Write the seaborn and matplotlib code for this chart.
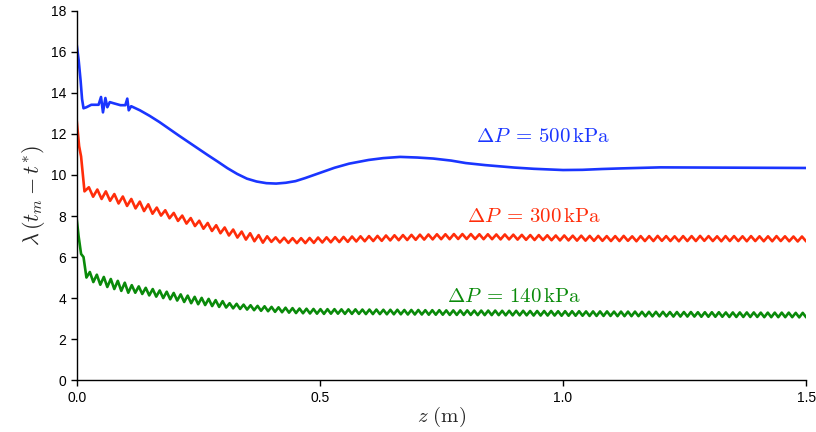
import numpy as np
import pandas as pd
import matplotlib
matplotlib.use("Agg")
import matplotlib.pyplot as plt
import seaborn as sns

# --- data ---
# dP = 500 kPa (smooth curve, explicit points)
blue_z = [0.0, 0.004, 0.008, 0.011, 0.014, 0.02, 0.03, 0.045, 0.05, 0.054, 0.059, 0.063,
          0.068, 0.075, 0.09, 0.1, 0.104, 0.107, 0.112, 0.13, 0.15, 0.17, 0.19, 0.21,
          0.23, 0.25, 0.27, 0.29, 0.31, 0.33, 0.35, 0.37, 0.39, 0.41, 0.43, 0.45, 0.47,
          0.5, 0.53, 0.56, 0.6, 0.63, 0.665, 0.7, 0.733, 0.77, 0.8, 0.84, 0.87, 0.9,
          0.94, 0.97, 1.0, 1.04, 1.08, 1.12, 1.2, 1.3, 1.4, 1.5]
blue_v = [16.35, 15.6, 14.6, 13.7, 13.25, 13.3, 13.42, 13.42, 13.8, 13.05, 13.75, 13.3,
          13.55, 13.5, 13.4, 13.4, 13.72, 13.15, 13.35, 13.15, 12.88, 12.58, 12.25, 11.92,
          11.6, 11.28, 10.96, 10.65, 10.33, 10.05, 9.82, 9.68, 9.6, 9.58, 9.62, 9.7, 9.85,
          10.1, 10.35, 10.55, 10.73, 10.82, 10.88, 10.85, 10.8, 10.7, 10.58, 10.48, 10.42, 10.36,
          10.3, 10.27, 10.24, 10.25, 10.29, 10.32, 10.37, 10.36, 10.35, 10.34]

# dP = 300 kPa: initial drop, then alternating peaks / troughs
red_head_z = [0.0, 0.005, 0.009, 0.016]
red_head_v = [12.65, 11.4, 10.9, 9.2]
red_osc_start = 0.025
red_peaks = [9.40, 9.29, 9.20, 9.07, 8.95, 8.83, 8.70, 8.57, 8.41, 8.28, 8.15, 8.02,
             7.90, 7.77, 7.66, 7.55, 7.44, 7.34, 7.24, 7.16, 7.07, 7.01, 6.96, 6.94,
             6.92, 6.92, 6.93, 6.95, 6.96, 6.97, 6.98, 7.00, 7.01, 7.02,
             7.03, 7.05, 7.06, 7.07, 7.08, 7.09, 7.10, 7.11, 7.11, 7.12,
             7.12, 7.12, 7.11, 7.11, 7.10, 7.10, 7.09, 7.08, 7.07, 7.07,
             7.06, 7.05, 7.05, 7.04, 7.04, 7.03, 7.03, 7.02,
             7.02, 7.03, 7.01, 7.02, 7.02, 7.03, 7.02, 7.01, 7.02, 7.02, 7.03, 7.02,
             7.01, 7.02, 7.02, 7.01, 7.02, 7.01, 7.01, 7.02, 7.01, 7.00, 7.00]
red_troughs = [8.94, 8.83, 8.74, 8.61, 8.49, 8.37, 8.24, 8.11, 8.02, 7.89, 7.76, 7.63,
               7.51, 7.38, 7.27, 7.16, 7.05, 6.95, 6.85, 6.77, 6.70, 6.74, 6.71, 6.69,
               6.68, 6.68, 6.69, 6.71, 6.72, 6.73, 6.74, 6.76, 6.77, 6.78,
               6.79, 6.81, 6.82, 6.83, 6.84, 6.85, 6.86, 6.87, 6.87, 6.88,
               6.88, 6.88, 6.87, 6.87, 6.86, 6.86, 6.85, 6.84, 6.83, 6.83,
               6.82, 6.81, 6.81, 6.80, 6.80, 6.79, 6.79, 6.78,
               6.78, 6.79, 6.77, 6.78, 6.78, 6.79, 6.78, 6.77, 6.78, 6.78, 6.79, 6.78,
               6.77, 6.78, 6.78, 6.77, 6.78, 6.77, 6.77, 6.78, 6.77, 6.76, 6.76]

# dP = 140 kPa
green_head_z = [0.0, 0.004, 0.009, 0.014, 0.02]
green_head_v = [7.85, 7.0, 6.15, 6.0, 5.0]
green_osc_start = 0.027
green_peaks = [5.27, 5.14, 5.03, 4.93, 4.84, 4.75, 4.63, 4.57, 4.50, 4.44, 4.37, 4.31,
               4.25, 4.18, 4.12, 4.06, 4.01, 3.96, 3.90, 3.85, 3.75, 3.72, 3.68, 3.65,
               3.62, 3.60, 3.57, 3.55, 3.53, 3.51, 3.49, 3.48, 3.47, 3.46,
               3.46, 3.46, 3.45, 3.45, 3.45, 3.44, 3.44, 3.44, 3.43, 3.43,
               3.43, 3.42, 3.42, 3.42, 3.41, 3.41, 3.41, 3.40, 3.40, 3.40,
               3.40, 3.39, 3.39, 3.39, 3.39, 3.38, 3.38, 3.38, 3.38, 3.37,
               3.37, 3.37, 3.37, 3.36, 3.36, 3.36, 3.36, 3.35, 3.35, 3.35,
               3.35, 3.34, 3.34, 3.34, 3.34, 3.33, 3.33, 3.33, 3.33, 3.32,
               3.32, 3.32, 3.32, 3.31, 3.31, 3.31, 3.31, 3.30, 3.30, 3.30,
               3.30, 3.30, 3.29, 3.29, 3.29, 3.29, 3.29, 3.28, 3.28]
green_troughs = [4.78, 4.65, 4.54, 4.44, 4.35, 4.26, 4.26, 4.20, 4.13, 4.07, 4.00, 3.94,
                 3.88, 3.81, 3.75, 3.70, 3.66, 3.61, 3.57, 3.54, 3.50, 3.47, 3.44, 3.41,
                 3.38, 3.36, 3.33, 3.31, 3.29, 3.27, 3.26, 3.25, 3.24, 3.23,
                 3.24, 3.24, 3.23, 3.23, 3.23, 3.22, 3.22, 3.22, 3.21, 3.21,
                 3.21, 3.20, 3.20, 3.20, 3.19, 3.19, 3.19, 3.18, 3.18, 3.18,
                 3.18, 3.17, 3.17, 3.17, 3.17, 3.16, 3.16, 3.16, 3.16, 3.15,
                 3.15, 3.15, 3.15, 3.14, 3.14, 3.14, 3.14, 3.13, 3.13, 3.13,
                 3.13, 3.12, 3.12, 3.12, 3.12, 3.11, 3.11, 3.11, 3.11, 3.10,
                 3.10, 3.10, 3.10, 3.09, 3.09, 3.09, 3.09, 3.08, 3.08, 3.08,
                 3.08, 3.08, 3.07, 3.07, 3.07, 3.07, 3.07, 3.06, 3.06]

labels = ["500", "300", "140"]
colors = ["#1a35ff", "#ff2d0a", "#0a8a0a"]
label_pos = [(0.96, 11.85), (0.94, 8.0), (0.90, 4.1)]


def osc_series(head_z, head_v, start, peaks, troughs):
    vals = np.ravel(np.column_stack([peaks, troughs]))
    z = np.linspace(start, 1.5, len(vals))
    return np.concatenate([head_z, z]), np.concatenate([head_v, vals])


rz, rv = osc_series(red_head_z, red_head_v, red_osc_start, red_peaks, red_troughs)
gz, gv = osc_series(green_head_z, green_head_v, green_osc_start, green_peaks, green_troughs)

df = pd.concat([
    pd.DataFrame({"z": blue_z, "val": blue_v, "dp": labels[0]}),
    pd.DataFrame({"z": rz, "val": rv, "dp": labels[1]}),
    pd.DataFrame({"z": gz, "val": gv, "dp": labels[2]}),
])

sns.set_style("ticks")
plt.rcParams["font.family"] = ["Liberation Sans", "DejaVu Sans"]
plt.rcParams["mathtext.fontset"] = "cm"

fig = plt.figure(figsize=(8.16, 4.32), dpi=100)
ax = fig.add_axes([0.094, 0.12, 0.894, 0.855])

sns.lineplot(data=df, x="z", y="val", hue="dp", palette=dict(zip(labels, colors)),
             estimator=None, sort=False, lw=1.9, legend=False, ax=ax,
             solid_joinstyle="round")

for lab, col, (x, y) in zip(labels, colors, label_pos):
    ax.text(x, y, r"$\Delta P\;=\,%s\,\mathrm{kPa}$" % lab, color=col, fontsize=15,
            ha="center", va="center")

ax.set_xlim(0, 1.5)
ax.set_ylim(0, 18)
ax.set_xticks([0.0, 0.5, 1.0, 1.5])
ax.set_xticklabels(["0.0", "0.5", "1.0", "1.5"])
ax.set_yticks(range(0, 19, 2))
ax.tick_params(direction="out", length=4, width=1, labelsize=10, colors="black")
ax.set_xlabel(r"$z\ (\mathrm{m})$", fontsize=15, labelpad=0)
ax.set_ylabel(r"$\lambda\,(t_m - t^{*})$", fontsize=16, labelpad=3)
for s in ["left", "bottom"]:
    ax.spines[s].set_color("black")
    ax.spines[s].set_linewidth(1)
sns.despine(ax=ax)

fig.savefig("out.png", dpi=100)
